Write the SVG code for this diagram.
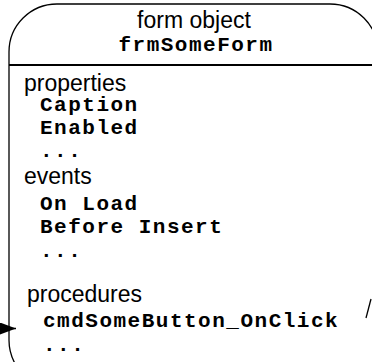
<svg xmlns="http://www.w3.org/2000/svg" width="372" height="362" viewBox="0 0 372 362">
  <style>
    .edge { fill: none; stroke: #000; stroke-width: 1.3; }
    .rule { stroke: #000; stroke-width: 2.2; }
    .sans { font-family: "Liberation Sans", Arial, sans-serif; font-size: 23px; fill: #000; }
    .mono { font-family: "Liberation Mono", "Courier New", monospace; font-weight: bold; font-size: 21px; letter-spacing: 1.5px; fill: #000; }
  </style>
  <defs>
    <marker id="arrowhead" markerWidth="16" markerHeight="12" refX="16" refY="6" orient="auto" markerUnits="userSpaceOnUse">
      <path d="M0,0 L16,6 L0,12 Z" fill="#000"/>
    </marker>
  </defs>
  <rect width="372" height="362" fill="#fff"/>

  <!-- form object node: rounded box with header and member compartment -->
  <g id="form-object">
    <path class="edge" d="M9,340 L9,52 A48,48 0 0 1 57,4 L330,4 A48,48 0 0 1 378,52 L378,362"/>
    <path class="edge" d="M9,340 A48,48 0 0 0 30,380"/>
    <line class="rule" x1="9" y1="65" x2="372" y2="65"/>
    <text class="sans" x="194" y="28" text-anchor="middle">form object</text>
    <text class="mono" x="196" y="51" text-anchor="middle">frmSomeForm</text>

    <text class="sans" x="24" y="91">properties</text>
    <text class="mono" x="40" y="111">Caption</text>
    <text class="mono" x="40" y="134">Enabled</text>
    <text class="mono" x="40" y="157">...</text>

    <text class="sans" x="24" y="184">events</text>
    <text class="mono" x="40" y="210">On Load</text>
    <text class="mono" x="40" y="233">Before Insert</text>
    <text class="mono" x="40" y="257">...</text>

    <text class="sans" x="27" y="302">procedures</text>
    <text class="mono" x="43" y="327">cmdSomeButton_OnClick</text>
    <text class="mono" x="43" y="351">...</text>
  </g>

  <!-- connectors -->
  <g id="connectors">
    <path class="edge" d="M-20,328.5 L16,328.5" marker-end="url(#arrowhead)"/>
    <line class="edge" x1="371" y1="299" x2="366" y2="318"/>
  </g>
</svg>
